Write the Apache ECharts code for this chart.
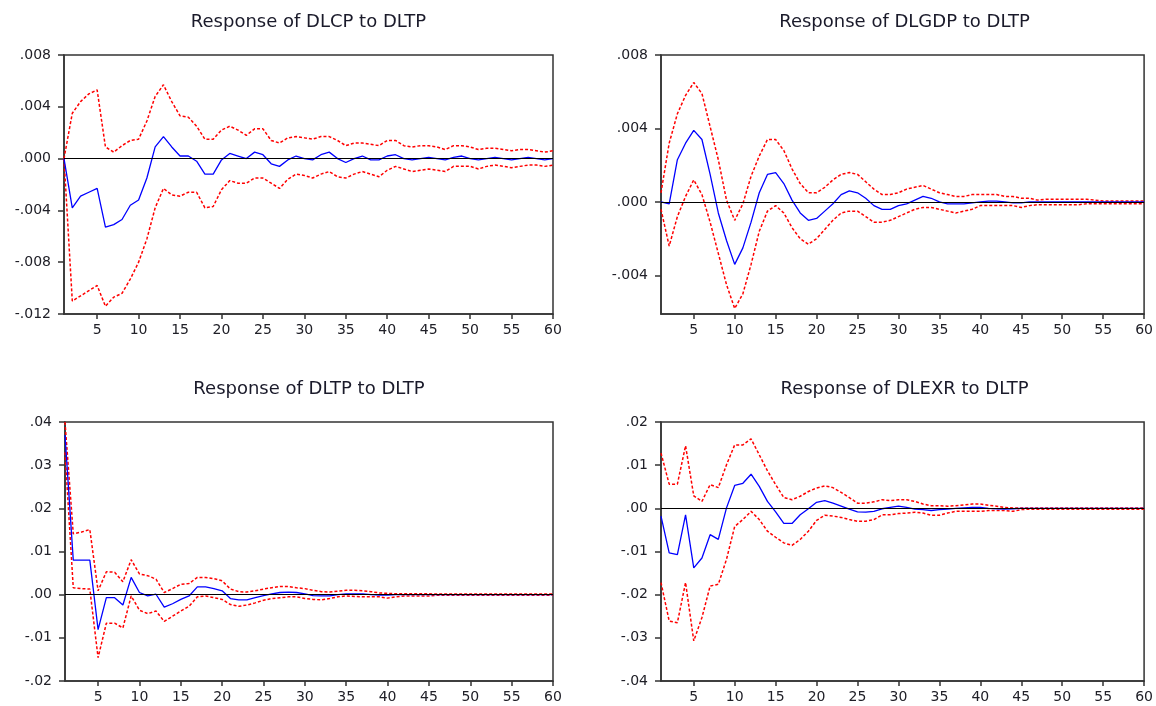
<!DOCTYPE html>
<html>
<head>
<meta charset="utf-8">
<script src="https://cdn.jsdelivr.net/npm/echarts@6/dist/echarts.min.js"></script>
<style>
html,body{margin:0;padding:0;background:#fff;}
#chart{width:1156px;height:706px;}
</style>
</head>
<body>
<div id="chart"></div>
<script>
// Periods (x categories)
const periods = [1,2,3,4,5,6,7,8,9,10,11,12,13,14,15,16,17,18,19,20,21,22,23,24,25,26,27,28,29,30,
  31,32,33,34,35,36,37,38,39,40,41,42,43,44,45,46,47,48,49,50,51,52,53,54,55,56,57,58,59,60];

// Titles
const titles = ['Response of DLCP to DLTP','Response of DLGDP to DLTP','Response of DLTP to DLTP','Response of DLEXR to DLTP'];

// Y tick values
const yTicks1 = [-0.012,-0.008,-0.004,0,0.004,0.008];
const yTicks2 = [-0.004,0,0.004,0.008];
const yTicks3 = [-0.02,-0.01,0,0.01,0.02,0.03,0.04];
const yTicks4 = [-0.04,-0.03,-0.02,-0.01,0,0.01,0.02];

// Panel 1: DLCP
const resp1 = [0,-0.0038,-0.0029,-0.0026,-0.0023,-0.0053,-0.0051,-0.0047,-0.0036,-0.0032,
  -0.0015,0.0009,0.0017,0.0009,0.0002,0.0002,-0.0002,-0.0012,-0.0012,-0.0001,
  0.0004,0.0002,0.0000,0.0005,0.0003,-0.0004,-0.0006,-0.0001,0.0002,0.0000,
  -0.0001,0.0003,0.0005,0.0000,-0.0003,0.0000,0.0002,-0.0001,-0.0001,0.0002,
  0.0003,0.0000,-0.0001,0.0000,0.0001,0.0000,-0.0001,0.0001,0.0002,0.0000,
  -0.0001,0.0000,0.0001,0.0000,-0.0001,0.0000,0.0001,0.0000,-0.0001,0.0000];
const upper1 = [0,0.0035,0.0044,0.0050,0.0053,0.0009,0.0005,0.0010,0.0014,0.0015,
  0.0029,0.0048,0.0057,0.0044,0.0033,0.0032,0.0025,0.0015,0.0015,0.0022,
  0.0025,0.0022,0.0018,0.0023,0.0023,0.0014,0.0012,0.0016,0.0017,0.0016,
  0.0015,0.0017,0.0017,0.0014,0.0010,0.0012,0.0012,0.0011,0.0010,0.0014,
  0.0014,0.0010,0.0009,0.0010,0.0010,0.0009,0.0007,0.0010,0.0010,0.0009,
  0.0007,0.0008,0.0008,0.0007,0.0006,0.0007,0.0007,0.0006,0.0005,0.0006];
const lower1 = [0,-0.0110,-0.0106,-0.0102,-0.0098,-0.0114,-0.0107,-0.0104,-0.0093,-0.0080,
  -0.0062,-0.0038,-0.0023,-0.0028,-0.0029,-0.0026,-0.0026,-0.0038,-0.0037,-0.0024,
  -0.0017,-0.0019,-0.0019,-0.0015,-0.0015,-0.0019,-0.0023,-0.0016,-0.0012,-0.0013,
  -0.0015,-0.0012,-0.0010,-0.0014,-0.0015,-0.0012,-0.0010,-0.0012,-0.0014,-0.0009,
  -0.0006,-0.0008,-0.0010,-0.0009,-0.0008,-0.0009,-0.0010,-0.0006,-0.0006,-0.0006,
  -0.0008,-0.0006,-0.0005,-0.0006,-0.0007,-0.0006,-0.0005,-0.0005,-0.0006,-0.0005];

// Panel 2: DLGDP
const resp2 = [0,-0.0001,0.0023,0.0032,0.0039,0.0034,0.0015,-0.0006,-0.0021,-0.0034,
  -0.0025,-0.0011,0.0005,0.0015,0.0016,0.0010,0.0001,-0.0006,-0.0010,-0.0009,
  -0.0005,-0.0001,0.0004,0.0006,0.0005,0.0002,-0.0002,-0.0004,-0.0004,-0.0002,
  -0.0001,0.0001,0.0003,0.0002,0.0000,-0.0001,-0.0001,-0.0001,-0.00005,0,
  0.00005,0.00005,0,-0.00005,-0.00005,0,0,0,0,0,
  0,0,0,0,0,0,0,0,0,0];
const upper2 = [0.0005,0.0032,0.0048,0.0058,0.0065,0.0059,0.0041,0.0023,0.0001,-0.0010,
  -0.0001,0.0014,0.0025,0.0034,0.0034,0.0028,0.0018,0.0010,0.0005,0.0005,
  0.0008,0.0012,0.0015,0.0016,0.0015,0.0011,0.0007,0.0004,0.0004,0.0005,
  0.0007,0.0008,0.0009,0.0007,0.0005,0.0004,0.0003,0.0003,0.0004,0.0004,
  0.0004,0.0004,0.0003,0.0003,0.0002,0.0002,0.0001,0.00015,0.00015,0.00015,
  0.00015,0.00015,0.00015,0.0001,0.00005,0.00005,0.00005,0.00005,0.00005,0.00005];
const lower2 = [-0.0004,-0.0024,-0.0008,0.0003,0.0012,0.0004,-0.0011,-0.0028,-0.0045,-0.0058,
  -0.0050,-0.0034,-0.0016,-0.0005,-0.0002,-0.0006,-0.0014,-0.0020,-0.0023,-0.0020,
  -0.0015,-0.0010,-0.0006,-0.0005,-0.0005,-0.0008,-0.0011,-0.0011,-0.0010,-0.0008,
  -0.0006,-0.0004,-0.0003,-0.0003,-0.0004,-0.0005,-0.0006,-0.0005,-0.0004,-0.0002,
  -0.0002,-0.0002,-0.0002,-0.0002,-0.0003,-0.0002,-0.00015,-0.00015,-0.00015,-0.00015,
  -0.00015,-0.00015,-0.0001,-0.0001,-0.0001,-0.0001,-0.0001,-0.0001,-0.0001,-0.0001];

// Panel 3: DLTP
const resp3 = [0.037,0.008,0.008,0.008,-0.0081,-0.0007,-0.0007,-0.0024,0.0040,0.0005,
  -0.0003,0.0001,-0.0029,-0.0021,-0.0011,-0.0003,0.0018,0.0018,0.0014,0.0009,
  -0.0009,-0.0012,-0.0012,-0.0007,-0.0002,0.0002,0.0005,0.0006,0.0005,0.0002,
  -0.0002,-0.0003,-0.0003,0.0000,0.0002,0.0002,0.0002,0.0000,-0.0001,-0.0001,
  0,0,0,0,0,0,0,0,0,0,
  0,0,0,0,0,0,0,0,0,0];
const upper3 = [0.040,0.0141,0.0145,0.0151,0.0009,0.0053,0.0052,0.0030,0.0081,0.0048,
  0.0044,0.0036,0.0005,0.0014,0.0024,0.0026,0.0040,0.0040,0.0037,0.0032,
  0.0013,0.0007,0.0006,0.0009,0.0013,0.0016,0.0019,0.0019,0.0016,0.0014,
  0.0010,0.0007,0.0006,0.0008,0.0010,0.0010,0.0009,0.0007,0.0004,0.0003,
  0.0002,0.0002,0.0002,0.0002,0.0002,0.00015,0.00015,0.00015,0.00015,0.00015,
  0.00015,0.00015,0.00015,0.00015,0.00015,0.00015,0.00015,0.00015,0.00015,0.00015];
const lower3 = [0.033,0.0016,0.0014,0.0013,-0.0146,-0.0066,-0.0066,-0.0077,-0.0003,-0.0036,
  -0.0044,-0.0038,-0.0062,-0.0050,-0.0038,-0.0027,-0.0005,-0.0003,-0.0007,-0.0011,
  -0.0023,-0.0027,-0.0024,-0.0019,-0.0013,-0.0009,-0.0007,-0.0005,-0.0005,-0.0009,
  -0.0011,-0.0012,-0.0009,-0.0005,-0.0003,-0.0004,-0.0005,-0.0005,-0.0005,-0.0008,
  -0.0005,-0.0003,-0.0003,-0.0003,-0.0003,-0.00015,-0.00015,-0.00015,-0.00015,-0.00015,
  -0.00015,-0.00015,-0.00015,-0.00015,-0.00015,-0.00015,-0.00015,-0.00015,-0.00015,-0.00015];

// Panel 4: DLEXR
const resp4 = [-0.0018,-0.0103,-0.0107,-0.0015,-0.0138,-0.0115,-0.0061,-0.0072,0.0001,0.0053,
  0.0058,0.0079,0.0051,0.0016,-0.0008,-0.0035,-0.0035,-0.0015,-0.0001,0.0014,
  0.0018,0.0012,0.0005,-0.0002,-0.0008,-0.0009,-0.0007,-0.0001,0.0002,0.0005,
  0.0002,-0.0002,-0.0003,-0.0005,-0.0003,-0.0002,0.0000,0.0001,0.0002,0.0002,
  0.0000,-0.0001,-0.0002,-0.0001,0,0,0,0,0,0,
  0,0,0,0,0,0,0,0,0,0];
const upper4 = [0.0128,0.0056,0.0056,0.0145,0.0029,0.0016,0.0055,0.0048,0.0101,0.0147,
  0.0147,0.0161,0.0124,0.0087,0.0055,0.0025,0.0020,0.0028,0.0039,0.0047,
  0.0052,0.0048,0.0037,0.0025,0.0012,0.0012,0.0015,0.0020,0.0018,0.0020,
  0.0020,0.0016,0.0010,0.0006,0.0006,0.0005,0.0006,0.0008,0.0010,0.0010,
  0.0007,0.0005,0.0002,0.0001,0.0001,0.0001,0.0001,0.0001,0.0001,0.0001,
  0.0001,0.0001,0.0001,0.0001,0.0001,0.0001,0.0001,0.0001,0.0001,0.0001];
const lower4 = [-0.0172,-0.0261,-0.0265,-0.0172,-0.0307,-0.0253,-0.0180,-0.0176,-0.0118,-0.0042,
  -0.0026,-0.0007,-0.0026,-0.0053,-0.0067,-0.0080,-0.0086,-0.0072,-0.0053,-0.0028,
  -0.0016,-0.0018,-0.0021,-0.0026,-0.0030,-0.0030,-0.0026,-0.0015,-0.0015,-0.0012,
  -0.0011,-0.0009,-0.0011,-0.0016,-0.0016,-0.0011,-0.0007,-0.0007,-0.0007,-0.0007,
  -0.0005,-0.0005,-0.0005,-0.0007,-0.0003,-0.0002,-0.0002,-0.0002,-0.0002,-0.0002,
  -0.0002,-0.0002,-0.0002,-0.0002,-0.0002,-0.0002,-0.0002,-0.0002,-0.0002,-0.0002];

const panels = [
  {title: titles[0], resp: resp1, up: upper1, lo: lower1, ticks: yTicks1, min: -0.012, max: 0.008, dec: 3,
   grid: {left: 64, top: 55, width: 489, height: 259}},
  {title: titles[1], resp: resp2, up: upper2, lo: lower2, ticks: yTicks2, min: -0.0061, max: 0.008, dec: 3,
   grid: {left: 661, top: 55, width: 487, height: 259}},
  {title: titles[2], resp: resp3, up: upper3, lo: lower3, ticks: yTicks3, min: -0.02, max: 0.04, dec: 2,
   grid: {left: 65, top: 422, width: 488, height: 259}},
  {title: titles[3], resp: resp4, up: upper4, lo: lower4, ticks: yTicks4, min: -0.04, max: 0.02, dec: 2,
   grid: {left: 661, top: 422, width: 487, height: 259}}
];

const FONT = 'DejaVu Sans';
const frameColor = '#333333';
const labelColor = '#202028';

function fmt(dec) {
  return function (v) {
    const s = Math.abs(v).toFixed(dec).replace(/^0/, '');
    return (v < -1e-12 ? '-' : '') + s;
  };
}

function every5(idx, val) { return Number(val) % 5 === 0; }

const option = {
  animation: false,
  backgroundColor: '#ffffff',
  title: [], grid: [], xAxis: [], yAxis: [], series: []
};

panels.forEach(function (p, i) {
  option.title.push({
    text: p.title,
    left: p.grid.left + p.grid.width / 2,
    top: p.grid.top - 42,
    textAlign: 'center',
    padding: 0,
    textStyle: {fontFamily: FONT, fontSize: 18, fontWeight: 'normal', color: '#1a1a2a'}
  });
  option.grid.push({
    left: p.grid.left, top: p.grid.top, width: p.grid.width, height: p.grid.height,
    show: true, borderColor: frameColor, borderWidth: 1.5, backgroundColor: 'transparent',
    containLabel: false
  });
  option.xAxis.push({
    type: 'category', gridIndex: i, data: periods, boundaryGap: false, position: 'bottom',
    axisLine: {show: true, onZero: false, lineStyle: {color: frameColor, width: 1.5}},
    axisTick: {show: true, length: 5, inside: false, interval: every5,
      lineStyle: {color: frameColor, width: 1.5}},
    axisLabel: {show: true, margin: 9, color: labelColor, fontFamily: FONT, fontSize: 14,
      interval: every5},
    splitLine: {show: false}
  });
  option.yAxis.push({
    type: 'value', gridIndex: i, min: p.min, max: p.max, position: 'left',
    axisLine: {show: true, onZero: false, lineStyle: {color: frameColor, width: 1.5}},
    axisTick: {show: true, length: 6, inside: false, customValues: p.ticks,
      lineStyle: {color: frameColor, width: 1.5}},
    axisLabel: {show: true, margin: 13, color: labelColor, fontFamily: FONT, fontSize: 14,
      customValues: p.ticks, formatter: fmt(p.dec)},
    splitLine: {show: false}
  });
  option.series.push({
    type: 'line', xAxisIndex: i, yAxisIndex: i, data: p.up, showSymbol: false, z: 3,
    lineStyle: {color: '#ff0000', width: 1.5, type: [3, 2]},
    markLine: {silent: true, symbol: 'none', label: {show: false},
      lineStyle: {color: '#000000', width: 1.2, type: 'solid'},
      data: [{yAxis: 0}]}
  });
  option.series.push({
    type: 'line', xAxisIndex: i, yAxisIndex: i, data: p.lo, showSymbol: false, z: 3,
    lineStyle: {color: '#ff0000', width: 1.5, type: [3, 2]}
  });
  option.series.push({
    type: 'line', xAxisIndex: i, yAxisIndex: i, data: p.resp, showSymbol: false, z: 4,
    lineStyle: {color: '#0000ff', width: 1.3}
  });
});

const chart = echarts.init(document.getElementById('chart'), null, {renderer: 'canvas'});
chart.setOption(option);
</script>
</body>
</html>
